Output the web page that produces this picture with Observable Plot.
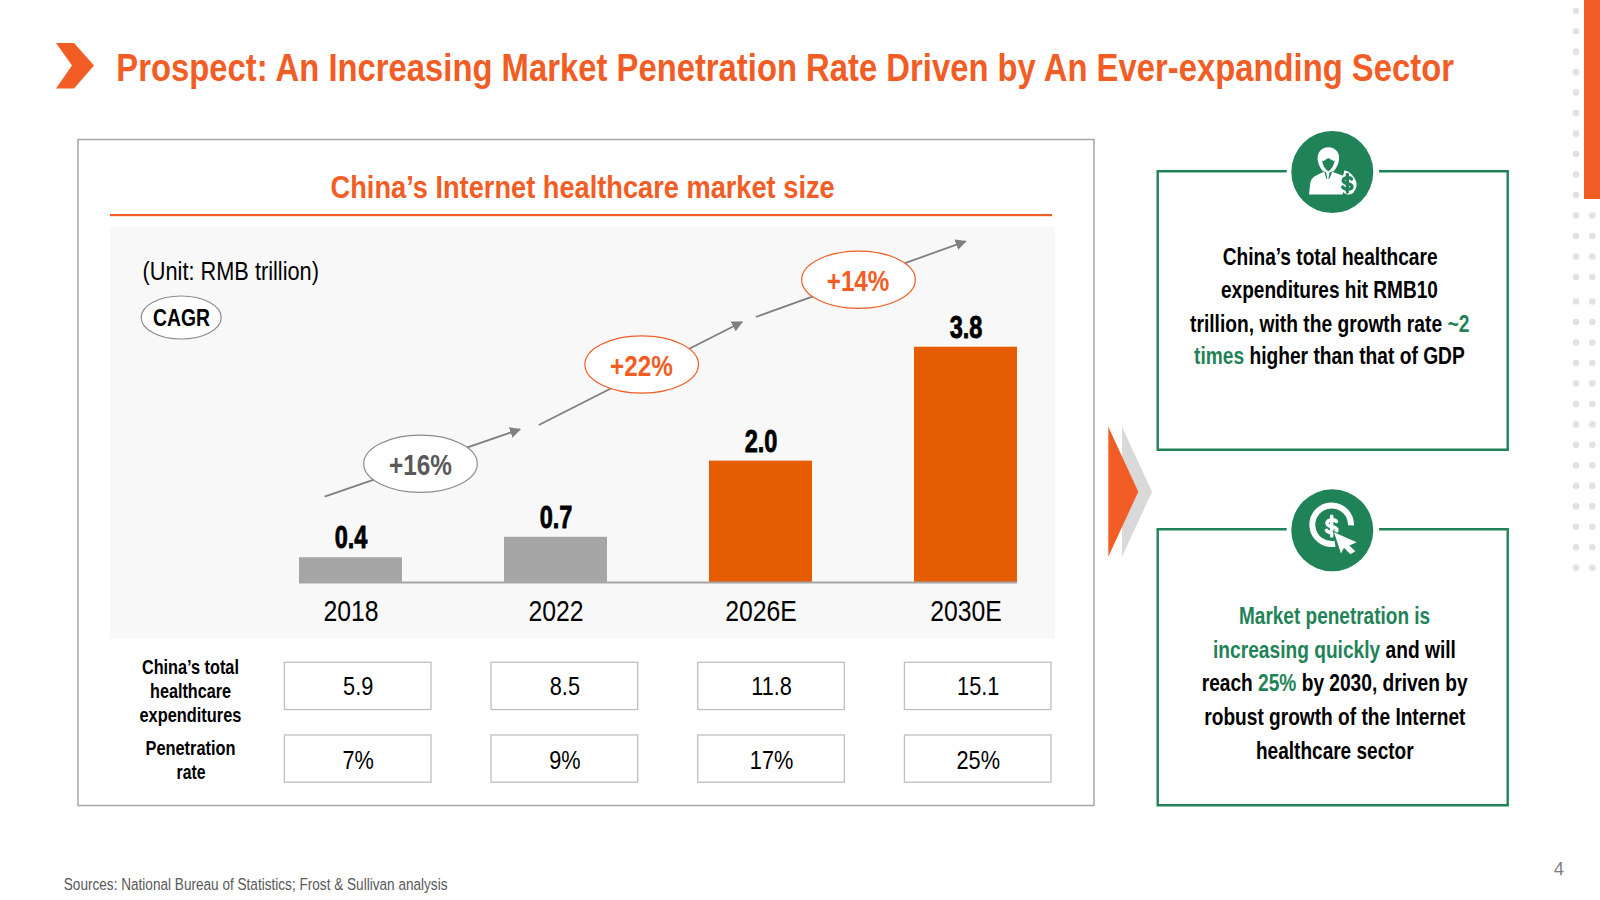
<!DOCTYPE html>
<html>
<head>
<meta charset="utf-8">
<script src="https://cdn.jsdelivr.net/npm/d3@7"></script>
<script src="https://cdn.jsdelivr.net/npm/@observablehq/plot@0.6"></script>
<style>
html,body{margin:0;padding:0;background:#fff;}
#slide{position:relative;width:1600px;height:900px;overflow:hidden;background:#fff;}
#slide>svg{position:absolute;left:0;top:0;}
</style>
</head>
<body>
<div id="slide"></div>
<script>
// ---- data ----
const years = ["2018", "2022", "2026E", "2030E"];
const marketSize = [0.4, 0.73, 1.96, 3.8];
const totalExpenditures = ["5.9", "8.5", "11.8", "15.1"];
const penetrationRate = ["7%", "9%", "17%", "25%"];
const cagrLabels = ["+16%", "+22%", "+14%"];
const slideTitle = "Prospect: An Increasing Market Penetration Rate Driven by An Ever-expanding Sector";
const chartTitle = "China’s Internet healthcare market size";
const unitLabel = "(Unit: RMB trillion)";
const cagrTag = "CAGR";
const rowHeadExpenditure = ["China’s total", "healthcare", "expenditures"];
const rowHeadPenetration = ["Penetration", "rate"];
const sourceNote = "Sources: National Bureau of Statistics; Frost & Sullivan analysis";
const pageNumber = "4";
const noteOne = [
  ["China’s total healthcare"],
  ["expenditures hit RMB10"],
  ["trillion, with the growth rate ", "~2"],
  ["times", " higher than that of GDP"]
];
const noteTwo = [
  ["Market penetration is"],
  ["increasing quickly", " and will"],
  ["reach ", "25%", " by 2030, driven by"],
  ["robust growth of the Internet"],
  ["healthcare sector"]
];

// ---- palette and fonts ----
const ORANGE = "#F15D25", BAR_ORANGE = "#E65C00", BAR_GRAY = "#A6A6A6", GREEN = "#1F8357";
const FONT = "'Liberation Sans',Arial,sans-serif";

const slide = d3.select("#slide");

// squeeze the text of a Plot figure sideways, keeping its anchor
function condense(nodes, ratio) {
  nodes.forEach(el => {
    el.setAttribute("transform", (el.getAttribute("transform") || "") + ` scale(${ratio},1)`);
  });
}

// ---- background layer ----
const under = slide.append("svg").attr("width", 1600).attr("height", 900);
under.append("rect").attr("x", 78).attr("y", 139.5).attr("width", 1016).attr("height", 666)
  .attr("fill", "#fff").attr("stroke", "#A6A6A6").attr("stroke-width", 1.5);
under.append("rect").attr("x", 110).attr("y", 227).attr("width", 945).attr("height", 412).attr("fill", "#F8F8F8");

// ---- bar chart, through Plot's scales and axis ----
const bars = years.map((year, i) => ({year, value: marketSize[i]}));
const chart = Plot.plot({
  width: 1600, height: 900,
  marginLeft: 299, marginRight: 583, marginTop: 346.7, marginBottom: 318,
  style: {background: "transparent"},
  x: {domain: years, paddingInner: 0.4976, paddingOuter: 0, round: false, label: null},
  y: {domain: [0, 3.8], axis: null, label: null},
  color: {type: "identity"},
  marks: [
    Plot.barY(bars, {x: "year", y: "value", fill: d => d.year.endsWith("E") ? BAR_ORANGE : BAR_GRAY}),
    Plot.ruleY([0], {stroke: "#A6A6A6", strokeWidth: 2}),
    Plot.text(bars, {x: "year", y: "value", text: d => d.value.toFixed(1), dy: -9.5, lineAnchor: "bottom",
      fontFamily: FONT, fontWeight: 700, fontSize: 31, fill: "#000", stroke: "#000", strokeWidth: 0.8,
      className: "value-label"}),
    Plot.axisX({anchor: "bottom", tickSize: 0, tickPadding: 18, label: null,
      fontFamily: FONT, fontSize: 29.5, fill: "#000"})
  ]
});
slide.node().append(chart);
condense([...chart.querySelectorAll(".value-label text")], 0.76);
condense([...chart.querySelectorAll("g[aria-label='x-axis tick label'] text")], 0.84);

// ---- table under the chart, through a second Plot ----
const rows = ["expenditure", "penetration"];
const cells = years.flatMap((year, i) => [
  {year, row: rows[0], text: totalExpenditures[i]},
  {year, row: rows[1], text: penetrationRate[i]}
]);
const table = Plot.plot({
  width: 1600, height: 900,
  marginLeft: 284.4, marginRight: 549, marginTop: 662.3, marginBottom: 117.8,
  style: {background: "transparent"},
  x: {domain: years, paddingInner: 0.2907, paddingOuter: 0, round: false, axis: null, label: null},
  y: {domain: rows, paddingInner: 0.35, paddingOuter: 0, round: false, axis: null, label: null},
  marks: [
    Plot.cell(cells, {x: "year", y: "row", fill: "#fff", stroke: "#BFBFBF", strokeWidth: 1.3}),
    Plot.text(cells, {filter: d => d.row === rows[0], x: "year", y: "row", text: "text", dy: -0.4,
      fontFamily: FONT, fontSize: 26.5, fill: "#000", className: "table-value"}),
    Plot.text(cells, {filter: d => d.row === rows[1], x: "year", y: "row", text: "text", dy: 1.7,
      fontFamily: FONT, fontSize: 26.5, fill: "#000", className: "table-value"})
  ]
});
slide.node().append(table);
condense([...table.querySelectorAll(".table-value text")], 0.82);

// ---- annotations and slide furniture ----
const over = slide.append("svg").attr("width", 1600).attr("height", 900);

over.append("defs").append("marker").attr("id", "head")
  .attr("viewBox", "0 0 10 10").attr("refX", 9).attr("refY", 5)
  .attr("markerWidth", 11).attr("markerHeight", 11).attr("markerUnits", "userSpaceOnUse")
  .attr("orient", "auto")
  .append("path").attr("d", "M0,0L10,5L0,10Z").attr("fill", "#7F7F7F");

// text fitted to the span it has in the reference by a horizontal scale
function label(parts, x0, x1, baseline, size, weight, fill, accent) {
  const t = over.append("text")
    .attr("font-family", FONT).attr("font-size", size).attr("font-weight", weight)
    .attr("fill", fill).style("white-space", "pre");
  parts.forEach((p, i) => t.append("tspan")
    .attr("fill", accent && accent.includes(i) ? GREEN : fill).text(p));
  const natural = t.node().getComputedTextLength();
  t.attr("transform", `translate(${x0},${baseline}) scale(${(x1 - x0) / natural},1)`);
  return t;
}

// dotted strip and orange strip at the right edge
for (const top of [10.7, 301.5]) {
  for (let i = 0; i < 14; i++) {
    const cy = top + i * 20.48;
    over.append("circle").attr("cx", 1576).attr("cy", cy).attr("r", 3.3).attr("fill", "#E2E2E2");
    if (cy > 205) over.append("circle").attr("cx", 1592.3).attr("cy", cy).attr("r", 3.3).attr("fill", "#E2E2E2");
  }
}
over.append("rect").attr("x", 1584).attr("y", 0).attr("width", 16).attr("height", 199).attr("fill", ORANGE);

// heading
over.append("path").attr("d", "M56,43H74L94,65.5L74,88.5H56L72,65.5Z").attr("fill", ORANGE);
label([slideTitle], 116.3, 1454, 80.6, 38, 700, ORANGE);

// chart panel heading
label([chartTitle], 330.6, 835, 198, 31, 700, ORANGE);
over.append("rect").attr("x", 110).attr("y", 214).attr("width", 942).attr("height", 2.2).attr("fill", ORANGE);
label([unitLabel], 142.5, 319, 280, 26, 400, "#000");
over.append("ellipse").attr("cx", 181.2).attr("cy", 317.5).attr("rx", 40).attr("ry", 21.5)
  .attr("fill", "#fff").attr("stroke", "#8C8C8C").attr("stroke-width", 1.2);
label([cagrTag], 153, 210, 325.7, 23, 700, "#000");

// growth arrows with their ovals
const arrows = [
  {from: [324.6, 496.7], to: [520, 429.3], c: [420.5, 463.7], stroke: "#8C8C8C", fill: "#595959", tx: [389, 452], base: 475},
  {from: [538.8, 425], to: [742, 322], c: [641.7, 364.5], stroke: ORANGE, fill: ORANGE, tx: [610, 672.8], base: 376},
  {from: [755.8, 317], to: [965.6, 241.3], c: [858.5, 279.7], stroke: ORANGE, fill: ORANGE, tx: [826.8, 889.3], base: 291}
];
arrows.forEach((a, i) => {
  over.append("line").attr("x1", a.from[0]).attr("y1", a.from[1]).attr("x2", a.to[0]).attr("y2", a.to[1])
    .attr("stroke", "#7F7F7F").attr("stroke-width", 1.8).attr("marker-end", "url(#head)");
  over.append("ellipse").attr("cx", a.c[0]).attr("cy", a.c[1]).attr("rx", 56.8).attr("ry", 28.6)
    .attr("fill", "#fff").attr("stroke", a.stroke).attr("stroke-width", 1.2);
  label([cagrLabels[i]], a.tx[0], a.tx[1], a.base, 30, 700, a.fill);
});

// table row headings
rowHeadExpenditure.forEach((s, i) => {
  const w = [[141.9, 239], [150, 231], [139.5, 241.5]][i];
  label([s], w[0], w[1], [674, 698.3, 722.3][i], 20, 700, "#000");
});
rowHeadPenetration.forEach((s, i) => {
  const w = [[145.5, 235.5], [176.5, 205.5]][i];
  label([s], w[0], w[1], [755, 779][i], 20, 700, "#000");
});

// big arrow between the panels
over.append("path").attr("d", "M1122,426.7L1152,491.7L1122,556.7Z").attr("fill", "#D9D9D9");
over.append("path").attr("d", "M1108.3,426.7L1138.3,491.7L1108.3,556.7Z").attr("fill", ORANGE);

// green note boxes
function noteBox(top, bottom) {
  over.append("path")
    .attr("d", `M1286.7,${top}H1157.7V${bottom}H1507.7V${top}H1379`)
    .attr("fill", "none").attr("stroke", GREEN).attr("stroke-width", 2.4);
}
noteBox(171.3, 449.7);
noteBox(529.3, 805.3);

// icons
function icon(cy) {
  over.append("circle").attr("cx", 1332.3).attr("cy", cy).attr("r", 41).attr("fill", GREEN);
  return over.append("g").attr("transform", `translate(1285,${cy - 47.5}) scale(${1 / 3})`);
}
const dollar = (g, x, y, k, col, w) => {
  g.append("path").attr("transform", `translate(${x},${y}) scale(${k})`)
    .attr("d", "M9,-9C7,-13 -8,-14 -9,-6C-10,3 10,-1 10,7C10,15 -7,14 -10,8M0,-19V19")
    .attr("fill", "none").attr("stroke", col).attr("stroke-width", w).attr("stroke-linecap", "round");
};
const person = icon(172);
person.append("path").attr("fill", "#fff").attr("fill-rule", "evenodd")
  .attr("d", "M130,68C152,68 165,85 162,106C160,120 155,130 148,138C142,145 118,145 112,138C105,130 100,120 98,106C96,85 108,68 130,68ZM111,108C113,122 119,133 130,141C141,133 147,122 149,108C140,113 136,99 128,102C120,106 116,112 111,108Z");
person.append("path").attr("fill", "#fff")
  .attr("d", "M72,210L76,175C78,160 92,152 118,142L124,163H127L123,142L134,142L130,163H133L142,142C155,147 166,150 177,155C165,168 160,180 170,190C176,198 176,204 172,210Z");
person.append("path").attr("fill", "#fff")
  .attr("d", "M177,138C192,140 200,148 209,162C219,178 215,190 205,205C197,212 185,212 176,204C163,192 158,180 165,166C171,156 178,150 177,138Z");
dollar(person, 187, 176, 1.4, GREEN, 7);

const target = icon(530.3);
target.append("path").attr("fill", "none").attr("stroke", "#fff").attr("stroke-width", 18)
  .attr("d", "M150,183A58,58 0 1 1 198,128");
dollar(target, 140, 130, 1.55, "#fff", 7);
target.append("path").attr("fill", "#fff").attr("stroke", GREEN).attr("stroke-width", 6).attr("paint-order", "stroke")
  .attr("d", "M147,148L215,178L193,188L211,205L196,214L177,195L168,212Z");

// note texts
const oneSpans = [[1222.7, 1437.7], [1221, 1438], [1190, 1469.5], [1194, 1465]];
const oneBase = [264.5, 297.7, 331.5, 364];
const oneAccent = [[], [], [1], [0]];
noteOne.forEach((p, i) => label(p, oneSpans[i][0], oneSpans[i][1], oneBase[i], 23.5, 700, "#000", oneAccent[i]));
const twoSpans = [[1239, 1430.3], [1213, 1456], [1201.7, 1467.7], [1204.3, 1465.7], [1256, 1413.7]];
const twoBase = [624, 658, 691.3, 725, 759];
const twoAccent = [[0], [0], [1], [], []];
noteTwo.forEach((p, i) => label(p, twoSpans[i][0], twoSpans[i][1], twoBase[i], 23.5, 700, "#000", twoAccent[i]));

// foot
label([sourceNote], 63.8, 447.7, 890, 16.5, 400, "#595959");
over.append("text").attr("x", 1559).attr("y", 875).attr("text-anchor", "middle")
  .attr("font-family", FONT).attr("font-size", 18.5).attr("fill", "#7F7F7F").text(pageNumber);
</script>
</body>
</html>
